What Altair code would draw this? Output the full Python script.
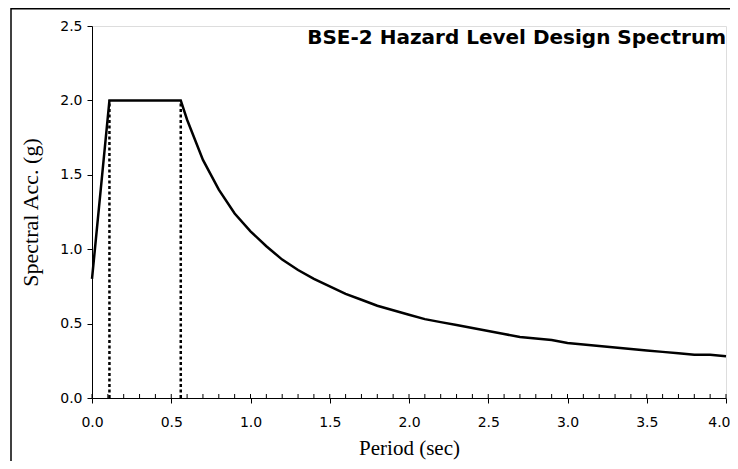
import altair as alt
import pandas as pd

# Design spectrum (BSE-2)
period = [0.0, 0.11, 0.56, 0.6, 0.7, 0.8, 0.9, 1.0, 1.1, 1.2, 1.3, 1.4, 1.5, 1.6, 1.7,
          1.8, 1.9, 2.0, 2.1, 2.2, 2.3, 2.4, 2.5, 2.6, 2.7, 2.8, 2.9, 3.0, 3.1, 3.2,
          3.3, 3.4, 3.5, 3.6, 3.7, 3.8, 3.9, 4.0]
spectral_acc = [0.80, 2.00, 2.00, 1.87, 1.60, 1.40, 1.24, 1.12, 1.02, 0.93, 0.86, 0.80,
                0.75, 0.70, 0.66, 0.62, 0.59, 0.56, 0.53, 0.51, 0.49, 0.47, 0.45, 0.43,
                0.41, 0.40, 0.39, 0.37, 0.36, 0.35, 0.34, 0.33, 0.32, 0.31, 0.30, 0.29,
                0.29, 0.28]
corner_periods = [0.11, 0.56]
corner_acc = [2.0, 2.0]
x_major_ticks = [0.0, 0.5, 1.0, 1.5, 2.0, 2.5, 3.0, 3.5, 4.0]
x_minor_ticks = [round(i * 0.1, 1) for i in range(41)]
y_ticks = [0.0, 0.5, 1.0, 1.5, 2.0, 2.5]
title_text = "BSE-2 Hazard Level Design Spectrum"

W, H = 634, 372
PAD = {"left": 84, "top": 18, "right": 4, "bottom": 63}

curve = pd.DataFrame({"T": period, "Sa": spectral_acc, "i": range(len(period))})
corners = pd.DataFrame({"T": corner_periods, "Sa": corner_acc, "zero": [0.0, 0.0]})
minor = pd.DataFrame({"T": x_minor_ticks})

xscale = alt.Scale(domain=[0, 4], nice=False, zero=False)
yscale = alt.Scale(domain=[0, 2.5], nice=False)

serif = "Liberation Serif"
sans = "DejaVu Sans"

line = alt.Chart(curve).mark_line(color="black", strokeWidth=2.5).encode(
    x=alt.X("T:Q", scale=xscale,
            axis=alt.Axis(title="Period (sec)", values=x_major_ticks, format=".1f",
                          tickSize=5, labelPadding=12, titlePadding=8,
                          titleFont=serif, titleFontSize=21, titleFontWeight="normal",
                          labelFont=sans, labelFontSize=14, labelColor="black",
                          titleColor="black", grid=False, domainColor="black",
                          tickColor="black", labelFlush=False,
                          labelAlign={"condition": {"test": "datum.value >= 4", "value": "right"},
                                      "value": "center"},
                          labelOffset={"condition": {"test": "datum.value >= 4", "value": 4},
                                       "value": 0})),
    y=alt.Y("Sa:Q", scale=yscale,
            axis=alt.Axis(title="Spectral Acc. (g)", values=y_ticks, format=".1f",
                          tickSize=5, labelPadding=5, titlePadding=17,
                          titleFont=serif, titleFontSize=22, titleFontWeight="normal",
                          labelFont=sans, labelFontSize=14, labelColor="black",
                          titleColor="black", grid=False, domainColor="black",
                          tickColor="black", labelFlush=False)),
    order="i:Q",
)

dotted = alt.Chart(corners).mark_rule(color="black", strokeWidth=2.5, strokeDash=[3, 2.5]).encode(
    x=alt.X("T:Q", scale=xscale),
    y=alt.Y("zero:Q", scale=yscale),
    y2="Sa:Q",
)

minor_ticks = alt.Chart(minor).mark_rule(color="black", strokeWidth=1).encode(
    x=alt.X("T:Q", scale=xscale),
    y=alt.value(H - 4),
    y2=alt.value(H),
)

title = alt.Chart(pd.DataFrame({"t": [title_text]})).mark_text(
    font=sans, fontSize=20, fontWeight="bold", align="right", baseline="alphabetic",
    color="black").encode(text="t:N", x=alt.value(W), y=alt.value(17.5))

border_left = alt.Chart(pd.DataFrame({"a": [0]})).mark_rule(color="black", strokeWidth=1.5).encode(
    x=alt.value(-81), y=alt.value(-18), y2=alt.value(H + PAD["bottom"]))
border_top = alt.Chart(pd.DataFrame({"a": [0]})).mark_rule(color="black", strokeWidth=1.5).encode(
    x=alt.value(-81), x2=alt.value(W + PAD["right"]), y=alt.value(-17.2))

chart = alt.layer(dotted, line, minor_ticks, title, border_left, border_top).properties(
    width=W, height=H,
    autosize=alt.AutoSizeParams(type="none"),
    padding=PAD,
).configure_view(stroke=None).configure(background="white")

chart.save("out.html", embed_options={"renderer": "svg", "actions": False})
